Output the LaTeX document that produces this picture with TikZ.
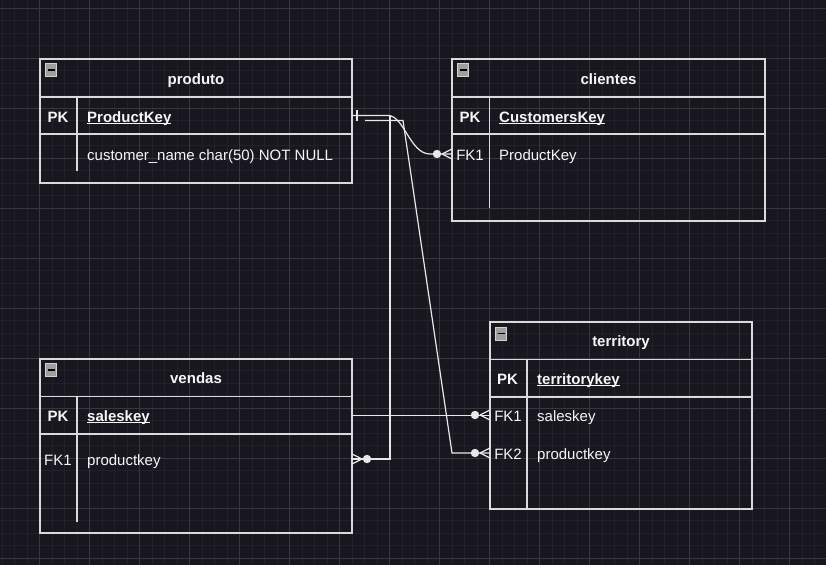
\documentclass[tikz,border=0pt]{standalone}
\usepackage{fontspec}
\setmainfont{Liberation Sans}
\usetikzlibrary{positioning,calc}

\definecolor{fundo}{RGB}{24,23,31}
\definecolor{gradefina}{RGB}{34,33,41}
\definecolor{gradegrossa}{RGB}{56,55,63}
\definecolor{borda}{RGB}{218,218,218}
\definecolor{traco}{RGB}{232,232,232}
\definecolor{letra}{RGB}{246,246,246}

\tikzset{
  secao/.style={draw=borda, line width=1.3pt, inner sep=0pt, outer sep=0pt},
  cabec/.style={secao, font=\fontsize{15}{18}\selectfont\bfseries},
  chave/.style={inner sep=0pt, font=\fontsize{15}{18}\selectfont\bfseries},
  rotulo/.style={inner sep=0pt},
  campo/.style={anchor=west, inner sep=0pt},
  chavecampo/.style={font=\fontsize{15}{18}\selectfont\bfseries},
  divisor/.style={draw=borda, line width=1.3pt},
  conector/.style={draw=traco, line width=1.2pt},
  icone/.style={rectangle, minimum size=11, inner sep=0pt, fill=gray!75, draw=gray!35,
    line width=0.8pt,
    path picture={\draw[black, line width=1.6pt]
      ([xshift=2pt]path picture bounding box.west) --
      ([xshift=-2pt]path picture bounding box.east);}},
  muitos/.pic={
    \draw[conector] (-10,0) -- (0,-5) (-10,0) -- (0,5);
    \fill[traco] (-15,0) circle (4.2);
  }
}

\begin{document}
\begin{tikzpicture}[x=1pt, y=-1pt,
  every node/.style={text=letra, text height=12.5, text depth=0.5,
    font=\fontsize{15}{18}\selectfont}]
  \fill[fundo] (0,0) rectangle (826,565);
  \useasboundingbox (0,0) rectangle (826,565);
  % grade do fundo
  \begin{scope}
    \clip (0,0) rectangle (826,565);
    \foreach \i in {0,...,66} \draw[gradefina, line width=0.7pt] (2+12.5*\i,0) -- (2+12.5*\i,565);
    \foreach \j in {0,...,45} \draw[gradefina, line width=0.7pt] (0,8+12.5*\j) -- (826,8+12.5*\j);
    \foreach \i in {-1,...,16} \draw[gradegrossa, line width=1pt] (39.5+50*\i,0) -- (39.5+50*\i,565);
    \foreach \j in {0,...,11} \draw[gradegrossa, line width=1pt] (0,8+50*\j) -- (826,8+50*\j);
  \end{scope}

  % produto
  \node[cabec, minimum width=312, minimum height=38] (prodCab) at (196,78) {produto};
  \node[secao, minimum width=312, minimum height=37, below=0pt of prodCab] (prodPK) {};
  \node[secao, minimum width=312, minimum height=49, below=0pt of prodPK] (prodCorpo) {};
  \node[icone] (prodIcone) at ($(prodCab.north west)+(11,11)$) {};
  \draw[divisor] (prodPK.north west) ++(37,0) -- ++(0,74);
  \node[chave] (prodPKrot) at (58,116) {PK};
  \node[campo, chavecampo] (prodPKcampo) at (87,116) {\underline{\smash{ProductKey}}};
  \node[campo] (prodNome) at (87,154) {customer\_name char(50) NOT NULL};

  % clientes
  \node[cabec, minimum width=313, minimum height=38] (cliCab) at (608.5,78) {clientes};
  \node[secao, minimum width=313, minimum height=37, below=0pt of cliCab] (cliPK) {};
  \node[secao, minimum width=313, minimum height=87, below=0pt of cliPK] (cliCorpo) {};
  \node[icone] (cliIcone) at ($(cliCab.north west)+(11,11)$) {};
  \draw[divisor] (cliPK.north west) ++(37.5,0) -- ++(0,111);
  \node[chave] (cliPKrot) at (470,116) {PK};
  \node[campo, chavecampo] (cliPKcampo) at (499,116) {\underline{\smash{CustomersKey}}};
  \node[rotulo] (cliFK1) at (470,154) {FK1};
  \node[campo] (cliFK1campo) at (499,154) {ProductKey};

  % vendas
  \node[cabec, minimum width=312, minimum height=37.5] (venCab) at (196,377.75) {vendas};
  \node[secao, minimum width=312, minimum height=37.5, below=0pt of venCab] (venPK) {};
  \node[secao, minimum width=312, minimum height=99, below=0pt of venPK] (venCorpo) {};
  \node[icone] (venIcone) at ($(venCab.north west)+(11,11)$) {};
  \draw[divisor] (venPK.north west) ++(37,0) -- ++(0,125);
  \node[chave] (venPKrot) at (58,415) {PK};
  \node[campo, chavecampo] (venPKcampo) at (87,415) {\underline{\smash{saleskey}}};
  \node[rotulo] (venFK1) at (58,459) {FK1};
  \node[campo] (venFK1campo) at (87,459) {productkey};

  % territory
  \node[cabec, minimum width=262, minimum height=37.5] (terCab) at (621,340.75) {territory};
  \node[secao, minimum width=262, minimum height=37.5, below=0pt of terCab] (terPK) {};
  \node[secao, minimum width=262, minimum height=112, below=0pt of terPK] (terCorpo) {};
  \node[icone] (terIcone) at ($(terCab.north west)+(11,11.5)$) {};
  \draw[divisor] (terPK.north west) ++(37,0) -- ++(0,149.5);
  \node[chave] (terPKrot) at (507.5,378) {PK};
  \node[campo, chavecampo] (terPKcampo) at (537,378) {\underline{\smash{territorykey}}};
  \node[rotulo] (terFK1) at (508,415) {FK1};
  \node[campo] (terFK1campo) at (537,415) {saleskey};
  \node[rotulo] (terFK2) at (508,453) {FK2};
  \node[campo] (terFK2campo) at (537,453) {productkey};

  % ligacoes
  \draw[conector] (prodPK.east) -- ++(36,0)
    .. controls +(16,0) and +(-20,0) .. ($(cliCorpo.west |- cliFK1)+(-22,0)$)
    -- (cliCorpo.west |- cliFK1);
  \draw[conector] ($(prodPK.east)+(5,-5.5)$) -- ($(prodPK.east)+(5,5.5)$);
  \coordinate (saida2) at ($(prodPK.east)+(13,5)$);
  \draw[conector] (saida2) -- ++(38,0) -- ($(terCorpo.west |- terFK2)+(-38,0)$)
    -- (terCorpo.west |- terFK2);
  \draw[conector] (venCorpo.east |- venFK1) -- ++(38,0) |- (prodPK.east);
  \draw[conector] (venPK.east) -- (venPK.east -| terCorpo.west);
  \pic at (cliCorpo.west |- cliFK1) {muitos};
  \pic at (terCorpo.west |- terFK1) {muitos};
  \pic at (terCorpo.west |- terFK2) {muitos};
  \pic[xscale=-1] at (venCorpo.east |- venFK1) {muitos};
\end{tikzpicture}
\end{document}
